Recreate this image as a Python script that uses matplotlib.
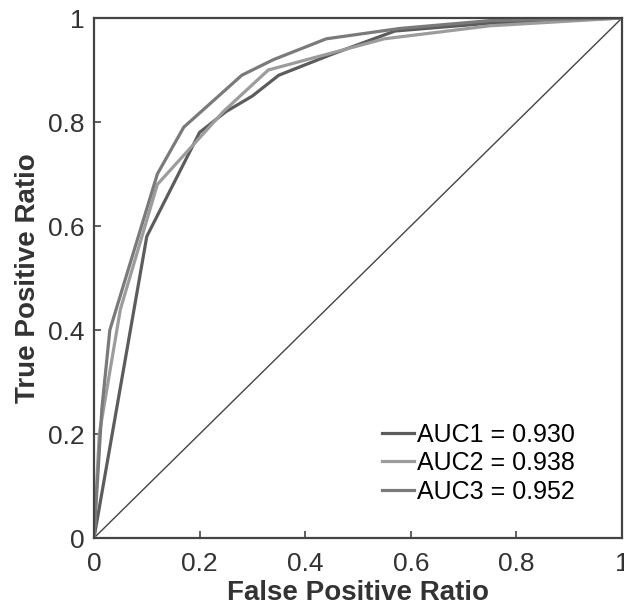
import matplotlib
matplotlib.use('Agg')
import matplotlib.pyplot as plt

plt.rcParams['font.family'] = ['Liberation Sans', 'DejaVu Sans']

# ROC 曲线数据
fpr1 = [0, 0.10, 0.20, 0.25, 0.30, 0.35, 0.45, 0.57, 0.75, 1.0]
tpr1 = [0, 0.58, 0.78, 0.82, 0.85, 0.89, 0.93, 0.975, 0.99, 1.0]
fpr2 = [0, 0.01, 0.05, 0.12, 0.245, 0.33, 0.55, 0.75, 1.0]
tpr2 = [0, 0.20, 0.44, 0.68, 0.82, 0.90, 0.96, 0.985, 1.0]
fpr3 = [0, 0.015, 0.03, 0.12, 0.17, 0.28, 0.34, 0.44, 0.58, 0.75, 1.0]
tpr3 = [0, 0.25, 0.40, 0.70, 0.79, 0.89, 0.92, 0.96, 0.98, 0.995, 1.0]
labels = ['AUC1 = 0.930', 'AUC2 = 0.938', 'AUC3 = 0.952']
ticks = [0, 0.2, 0.4, 0.6, 0.8, 1]
tick_labels = ['0', '0.2', '0.4', '0.6', '0.8', '1']

fig = plt.figure(figsize=(6.24, 6.09), dpi=100)
ax = fig.add_axes([94 / 624, 1 - 538 / 609, 528 / 624, 520 / 609])

ax.plot([0, 1], [0, 1], color='#444444', lw=1.0)
ax.plot(fpr1, tpr1, color='#5c5c5c', lw=2.3, label=labels[0])
ax.plot(fpr2, tpr2, color='#9c9c9c', lw=2.3, label=labels[1])
ax.plot(fpr3, tpr3, color='#7a7a7a', lw=2.3, label=labels[2])

ax.set_xlim(0, 1)
ax.set_ylim(0, 1)
ax.set_xticks(ticks)
ax.set_xticklabels(tick_labels)
ax.set_yticks(ticks)
ax.set_yticklabels(tick_labels)
ax.tick_params(direction='in', length=5, width=1.2, colors='#444444',
               labelsize=19, labelcolor='#333333')
ax.tick_params(axis='x', pad=10)
ax.tick_params(axis='y', pad=7)
for s in ax.spines.values():
    s.set_color('#444444')
    s.set_linewidth(1.6)

ax.set_xlabel('False Positive Ratio', fontsize=20, fontweight='bold',
              color='#333333', labelpad=3)
ax.set_ylabel('True Positive Ratio', fontsize=20, fontweight='bold',
              color='#333333', labelpad=5)

ax.legend(loc='upper left', bbox_to_anchor=(0.545, 0.222), frameon=False,
          fontsize=18, handlelength=1.3, handletextpad=0.12,
          borderpad=0, borderaxespad=0, labelspacing=0.18)

fig.savefig('out.png', dpi=100)
